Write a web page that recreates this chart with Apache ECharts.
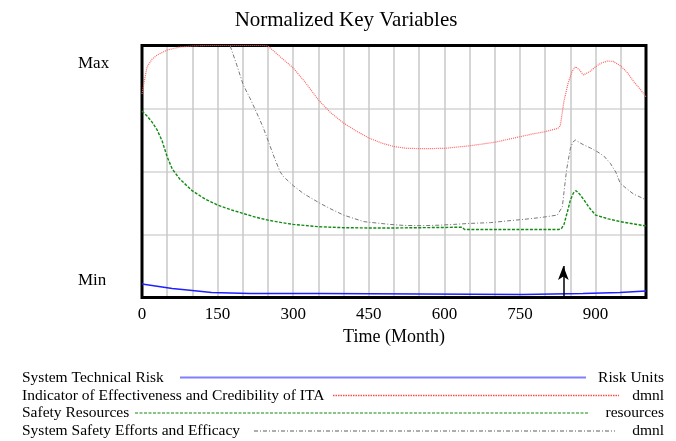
<!DOCTYPE html>
<html>
<head>
<meta charset="utf-8">
<script src="https://cdn.jsdelivr.net/npm/echarts@6/dist/echarts.min.js"></script>
<style>
  html,body{margin:0;padding:0;background:#fff;}
  #chart{width:676px;height:441px;}
</style>
</head>
<body>
<div id="chart"></div>
<script>
// normalized values, 0 = Min, 1 = Max
const redMonths = [0,5,10,20,30,50,75,100,125,150,200,240,250,275,300,325,350,375,400,425,450,475,500,525,550,575,600,625,650,675,700,725,750,775,800,825,830,837,845,853,860,868,876,890,900,912,923,935,949,962,976,990,1000];
const redValues = [0.808,0.863,0.915,0.946,0.962,0.982,0.994,0.998,1,1,1,1,0.998,0.954,0.911,0.851,0.784,0.732,0.692,0.661,0.633,0.613,0.599,0.592,0.591,0.591,0.592,0.597,0.602,0.609,0.616,0.627,0.638,0.649,0.658,0.671,0.681,0.777,0.847,0.896,0.916,0.903,0.883,0.899,0.916,0.931,0.938,0.937,0.920,0.895,0.856,0.823,0.796];

const greenMonths = [0,10,20,30,40,50,60,75,100,125,150,175,200,225,250,275,300,350,400,450,500,550,600,635,640,827,832,837,845,850,856,861,868,877,888,900,925,949,975,1000];
const greenValues = [0.740,0.720,0.696,0.665,0.621,0.558,0.510,0.470,0.423,0.391,0.367,0.349,0.334,0.319,0.307,0.298,0.290,0.281,0.277,0.276,0.276,0.277,0.278,0.279,0.270,0.270,0.273,0.288,0.347,0.387,0.415,0.424,0.411,0.387,0.355,0.327,0.312,0.301,0.292,0.284];

const greyMonths = [175,188,201,215,228,240,251,262,274,281,300,320,353,375,400,440,492,520,558,590,618,650,691,725,757,790,824,834,840,843,850,855,860,868,877,890,903,916,929,940,949,962,975,990,1000];
const greyValues = [0.998,0.923,0.843,0.788,0.731,0.677,0.618,0.558,0.499,0.479,0.444,0.413,0.374,0.351,0.327,0.301,0.290,0.286,0.285,0.287,0.290,0.294,0.297,0.304,0.310,0.317,0.327,0.360,0.466,0.513,0.592,0.617,0.625,0.615,0.605,0.593,0.579,0.562,0.533,0.498,0.453,0.431,0.411,0.397,0.387];

const blueMonths = [0,20,40,60,95,138,214,350,352,755,758,875,877,948,950,1000];
const blueValues = [0.054,0.048,0.042,0.036,0.029,0.020,0.016,0.016,0.012,0.012,0.016,0.016,0.020,0.020,0.026,0.026];

const arrowMonth = 836;
const arrowTop = 0.125;

const xTickLabels = [0,150,300,450,600,750,900];

const legendRows = [
  {name:'System Technical Risk', unit:'Risk Units'},
  {name:'Indicator of Effectiveness and Credibility of ITA', unit:'dmnl'},
  {name:'Safety Resources', unit:'resources'},
  {name:'System Safety Efforts and Efficacy', unit:'dmnl'}
];

const FONT = '"Liberation Serif","DejaVu Serif",serif';
const zip = (xs, ys)=>xs.map((x,i)=>[x, ys[i]]);

const chart = echarts.init(document.getElementById('chart'));

// legend rows at the bottom (Vensim style: name, sample line, unit)
const legendGeom = [
  {y:377.5, x1:180, x2:586, stroke:'#8080ff', width:2, dash:null},
  {y:395.5, x1:333, x2:619, stroke:'#ff4848', width:1.3, dash:[1.5,1]},
  {y:413,   x1:135, x2:589, stroke:'#108c10', width:1.2, dash:[3,1.5]},
  {y:431,   x1:254, x2:615, stroke:'#333', width:0.8, dash:[4,2,1,2]}
];
const legendGraphic = [];
legendRows.forEach((r,i)=>{
  const g = legendGeom[i];
  legendGraphic.push({type:'text', x:22, y:g.y,
    style:{text:r.name, font:'15.5px '+FONT, fill:'#000', textAlign:'left', textVerticalAlign:'middle'}});
  legendGraphic.push({type:'text', x:664, y:g.y,
    style:{text:r.unit, font:'15.5px '+FONT, fill:'#000', textAlign:'right', textVerticalAlign:'middle'}});
  legendGraphic.push({type:'line', shape:{x1:g.x1,y1:g.y,x2:g.x2,y2:g.y},
    style:{stroke:g.stroke, lineWidth:g.width, lineDash:g.dash}});
});

chart.setOption({
  animation:false,
  grid:{left:142, right:30, top:45.5, bottom:143.5, show:true, borderColor:'#000', borderWidth:3, backgroundColor:'transparent', z:3},
  xAxis:{type:'value', min:0, max:1000, interval:50,
    name:'Time (Month)', nameLocation:'middle', nameGap:31,
    nameTextStyle:{fontFamily:FONT, fontSize:18, color:'#000'},
    axisLine:{show:false}, axisTick:{show:false},
    axisLabel:{margin:9, fontFamily:FONT, fontSize:17, color:'#000',
      formatter:v=>xTickLabels.includes(v)?String(v):''},
    splitLine:{show:true, lineStyle:{color:'#c8c8c8', width:1.5}}},
  yAxis:{type:'value', min:0, max:1, interval:0.25,
    axisLine:{show:false}, axisTick:{show:false}, axisLabel:{show:false},
    splitLine:{show:true, lineStyle:{color:'#d4d4d4', width:1.5}}},
  series:[
    {type:'line', name:'Indicator of Effectiveness and Credibility of ITA', data:zip(redMonths, redValues),
      showSymbol:false, clip:true, lineStyle:{color:'#ff6060', width:1.2, type:[1,1]}},
    {type:'line', name:'System Safety Efforts and Efficacy', data:zip(greyMonths, greyValues),
      showSymbol:false, clip:true, lineStyle:{color:'#777', width:1, type:[4,2,1,2]}},
    {type:'line', name:'Safety Resources', data:zip(greenMonths, greenValues),
      showSymbol:false, clip:true, lineStyle:{color:'#108c10', width:1.4, type:[3,1.5]}},
    {type:'line', name:'System Technical Risk', data:zip(blueMonths, blueValues),
      showSymbol:false, clip:true, lineStyle:{color:'#2020ff', width:1.5},
      markLine:{silent:true, animation:false, symbol:['none','arrow'], symbolSize:[8,14],
        label:{show:false}, lineStyle:{color:'#000', width:1.5, type:'solid'},
        data:[[{coord:[arrowMonth,0]},{coord:[arrowMonth,arrowTop]}]]}}
  ],
  graphic:[
    {type:'text', x:346, y:20,
      style:{text:'Normalized Key Variables', font:'21px '+FONT, fill:'#000', textAlign:'center', textVerticalAlign:'middle'}},
    {type:'text', x:78, y:64, style:{text:'Max', font:'17px '+FONT, fill:'#000', textAlign:'left', textVerticalAlign:'middle'}},
    {type:'text', x:78, y:281, style:{text:'Min', font:'17px '+FONT, fill:'#000', textAlign:'left', textVerticalAlign:'middle'}}
  ].concat(legendGraphic)
});
</script>
</body>
</html>
